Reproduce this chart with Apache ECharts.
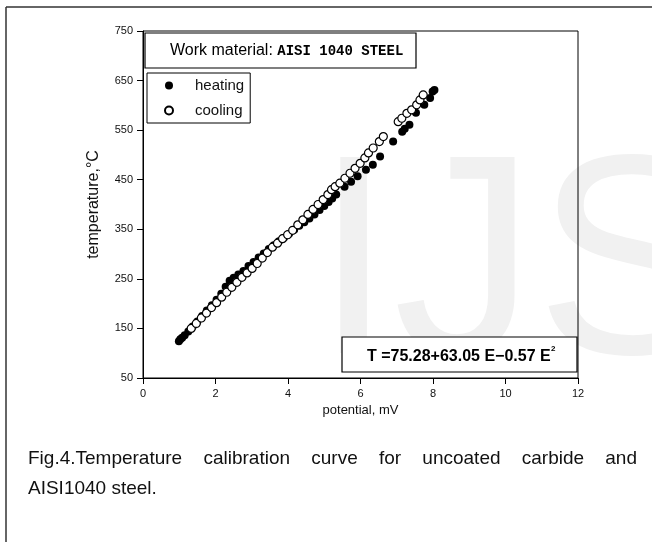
<!DOCTYPE html>
<html>
<head>
<meta charset="utf-8">
<script src="https://cdn.jsdelivr.net/npm/echarts@6/dist/echarts.min.js"></script>
<style>
html, body { margin: 0; padding: 0; background: #fff; }
#chart { width: 652px; height: 542px; }
</style>
</head>
<body>
<div id="chart"></div>
<script>
// values (potential mV, temperature °C)
const heatingE = [0.99, 1.03, 1.08, 1.15, 1.25, 1.37, 1.5, 1.63, 1.76, 1.9, 2.03, 2.16, 2.28, 2.39, 2.5, 2.63, 2.77, 2.91, 3.05, 3.19, 3.33, 3.47, 3.61, 3.75, 3.89, 4.03, 4.17, 4.31, 4.45, 4.59, 4.73, 4.87, 5.0, 5.12, 5.22, 5.33, 5.56, 5.74, 5.92, 6.15, 6.34, 6.54, 6.9, 7.15, 7.22, 7.35, 7.53, 7.76, 7.92, 7.99, 8.04];
const heatingT = [124, 128, 131, 136, 144, 154, 164, 175, 186, 197, 208, 220, 234, 246, 252, 259, 266, 276, 284, 293, 301, 310, 318, 326, 333, 341, 349, 357, 364, 372, 380, 389, 397, 405, 412, 420, 436, 446, 457, 470, 480, 497, 527, 547, 553, 561, 585, 601, 615, 628, 631];

const coolingE = [1.33, 1.47, 1.61, 1.75, 1.89, 2.03, 2.17, 2.31, 2.45, 2.59, 2.73, 2.87, 3.01, 3.15, 3.29, 3.43, 3.57, 3.71, 3.85, 3.99, 4.13, 4.27, 4.41, 4.55, 4.69, 4.83, 4.97, 5.1, 5.2, 5.3, 5.43, 5.57, 5.71, 5.85, 5.99, 6.12, 6.22, 6.35, 6.52, 6.63, 7.04, 7.14, 7.28, 7.41, 7.55, 7.64, 7.73];
const coolingT = [150, 160, 171, 181, 192, 202, 213, 223, 233, 243, 253, 262, 271, 281, 292, 303, 314, 322, 331, 339, 348, 359, 369, 380, 390, 400, 410, 420, 430, 436, 443, 453, 463, 473, 483, 494, 504, 514, 527, 537, 567, 574, 584, 591, 601, 611, 621];

const xRange = [0, 12, 2];
const yRange = [50, 750, 100];

const titleLabel = 'Work material: ';
const titleMaterial = 'AISI 1040 STEEL';
const equationText = 'T =75.28+63.05 E\u22120.57 E';
const captionLines = [
  'Fig.4.Temperature calibration curve for uncoated carbide and',
  'AISI1040 steel.'
];

const FONT = '"Liberation Sans", Arial, sans-serif';

function pairs(xs, ys) {
  return xs.map((x, i) => [x, ys[i]]);
}

// spread the words of a line so it fills the given width (justified)
function justifiedWords(line, x0, width, y, font, justify) {
  const ctx = document.createElement('canvas').getContext('2d');
  ctx.font = font;
  const words = line.split(' ');
  const widths = words.map((w) => ctx.measureText(w).width);
  const total = widths.reduce((a, b) => a + b, 0);
  const gap = justify && words.length > 1 ? (width - total) / (words.length - 1) : ctx.measureText(' ').width;
  let x = x0;
  return words.map((w, i) => {
    const el = {
      type: 'text',
      x: x,
      y: y,
      silent: true,
      style: { text: w, font: font, fill: '#111', verticalAlign: 'bottom' }
    };
    x += widths[i] + gap;
    return el;
  });
}

const chart = echarts.init(document.getElementById('chart'), null, { renderer: 'canvas' });

const captionFont = '19px ' + FONT;
const captionEls = []
  .concat(justifiedWords(captionLines[0], 28, 609, 468, captionFont, true))
  .concat(justifiedWords(captionLines[1], 28, 609, 498, captionFont, false));

chart.setOption({
  animation: false,
  backgroundColor: '#fff',
  grid: {
    left: 143,
    right: 74,
    top: 31,
    bottom: 164,
    show: true,
    borderColor: '#000',
    borderWidth: 1,
    backgroundColor: 'transparent'
  },
  legend: {
    data: ['heating', 'cooling'],
    orient: 'vertical',
    left: 147,
    top: 73,
    icon: 'circle',
    itemWidth: 42,
    itemHeight: 8,
    itemGap: 10,
    padding: [5, 6, 5, 17],
    borderColor: '#000',
    borderWidth: 1,
    backgroundColor: '#fff',
    textStyle: { fontFamily: FONT, fontSize: 15, color: '#111' }
  },
  xAxis: {
    type: 'value',
    min: xRange[0],
    max: xRange[1],
    interval: xRange[2],
    name: 'potential, mV',
    nameLocation: 'middle',
    nameGap: 26,
    nameTextStyle: { fontFamily: FONT, fontSize: 13, color: '#111' },
    axisLine: { onZero: false, lineStyle: { color: '#000', width: 1 } },
    axisTick: { length: 6, lineStyle: { color: '#000' } },
    axisLabel: { fontFamily: FONT, fontSize: 11, color: '#111', margin: 10 },
    splitLine: { show: false }
  },
  yAxis: {
    type: 'value',
    min: yRange[0],
    max: yRange[1],
    interval: yRange[2],
    name: 'temperature,\u00b0C',
    nameLocation: 'middle',
    nameGap: 41,
    nameTextStyle: { fontFamily: FONT, fontSize: 16, color: '#111' },
    axisLine: { onZero: false, lineStyle: { color: '#000', width: 1 } },
    axisTick: { length: 6, lineStyle: { color: '#000' } },
    axisLabel: { fontFamily: FONT, fontSize: 11, color: '#111', margin: 10 },
    splitLine: { show: false }
  },
  series: [
    {
      name: 'heating',
      type: 'scatter',
      data: pairs(heatingE, heatingT),
      symbol: 'circle',
      symbolSize: 8,
      z: 3,
      itemStyle: { color: '#000', opacity: 1 }
    },
    {
      name: 'cooling',
      type: 'scatter',
      data: pairs(coolingE, coolingT),
      symbol: 'circle',
      symbolSize: 8,
      z: 4,
      itemStyle: { color: '#fff', borderColor: '#000', borderWidth: 1.2, opacity: 1 }
    }
  ],
  graphic: [
    // faint watermark behind everything
    {
      type: 'text',
      x: 314,
      y: 417,
      z: -10,
      silent: true,
      style: { text: 'IJS', font: '285px ' + FONT, fill: '#f1f1f1', verticalAlign: 'bottom' }
    },
    // page border (top and left)
    { type: 'line', z: 5, shape: { x1: 6, y1: 7, x2: 652, y2: 7 }, style: { stroke: '#333', lineWidth: 1.5 } },
    { type: 'line', z: 5, shape: { x1: 6, y1: 7, x2: 6, y2: 542 }, style: { stroke: '#333', lineWidth: 1.5 } },
    // material box
    {
      type: 'rect',
      z: 5,
      shape: { x: 145, y: 33, width: 271, height: 35 },
      style: { fill: '#fff', stroke: '#000', lineWidth: 1.2 }
    },
    {
      type: 'text',
      z: 6,
      x: 170,
      y: 51,
      style: {
        text: '{a|' + titleLabel + '}{b|' + titleMaterial + '}',
        verticalAlign: 'middle',
        rich: {
          a: { fontFamily: FONT, fontSize: 16, color: '#222' },
          b: { fontFamily: '"Liberation Mono", "Courier New", monospace', fontWeight: 'bold', fontSize: 14, color: '#000' }
        }
      }
    },
    // equation box
    {
      type: 'rect',
      z: 5,
      shape: { x: 342, y: 337, width: 235, height: 35 },
      style: { fill: '#fff', stroke: '#000', lineWidth: 1.2 }
    },
    {
      type: 'text',
      z: 6,
      x: 367,
      y: 357,
      style: { text: equationText, font: 'bold 16px ' + FONT, fill: '#000', verticalAlign: 'middle' }
    },
    {
      type: 'text',
      z: 6,
      x: 551,
      y: 349,
      style: { text: '2', font: 'bold 8px ' + FONT, fill: '#000', verticalAlign: 'middle' }
    }
  ].concat(captionEls)
});

window.addEventListener('resize', () => chart.resize());
</script>
</body>
</html>
